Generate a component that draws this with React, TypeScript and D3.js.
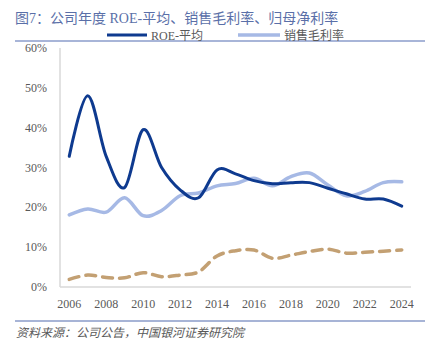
import React from "react";
import * as d3 from "d3";

const years = ["2006","2007","2008","2009","2010","2011","2012","2013","2014","2015","2016","2017","2018","2019","2020","2021","2022","2023","2024"];
const roe = [32.8, 48, 32.8, 25, 39.5, 30, 24.4, 22.4, 29.4, 28.4, 26.7, 25.9, 26.2, 26.2, 24.8, 23.4, 22.1, 22.1, 20.3];
const grossMargin = [18.1, 19.6, 18.8, 22.4, 17.9, 19.2, 22.9, 23.6, 25.4, 26, 27.3, 25.4, 27.7, 28.6, 25.6, 22.9, 24, 26.2, 26.4];
const netMargin = [1.9, 3, 2.4, 2.3, 3.6, 2.6, 3, 3.8, 7.8, 9.1, 9.3, 7.2, 8, 8.9, 9.5, 8.5, 8.7, 9, 9.3];
const yTicks = [0, 10, 20, 30, 40, 50, 60];
const xTickYears = ["2006","2008","2010","2012","2014","2016","2018","2020","2022","2024"];

const W = 436;
const H = 351;
const serif = "'Liberation Serif', 'Noto Sans CJK SC', serif";
const cjk = "'Liberation Serif', 'Noto Sans CJK SC', sans-serif";

export default function App() {
  const x = d3.scaleBand().domain(years).range([60, 411]);
  const cx = (d: string) => (x(d) as number) + x.bandwidth() / 2;
  const y = d3.scaleLinear().domain([0, 60]).range([287, 48]);

  const line = (vals: number[]) =>
    d3
      .line<number>()
      .x((_, i) => cx(years[i]))
      .y((v) => y(v))
      .curve(d3.curveCardinal.tension(0))(vals) as string;

  return (
    <svg width={W} height={H} style={{ position: "absolute", left: 0, top: 0, background: "#fff" }}>
      <text x={15} y={23} fontSize={14} fill="#5a6fa8" fontFamily={cjk}>
        图7：公司年度 ROE-平均、销售毛利率、归母净利率
      </text>
      <line x1={15} x2={425} y1={41} y2={41} stroke="#a8b5d8" strokeWidth={2} />

      {/* legend */}
      <line x1={107} x2={147} y1={35} y2={35} stroke="#0e3a8f" strokeWidth={3} />
      <text x={151} y={39.5} fontSize={12} fill="#595959" fontFamily={cjk}>ROE-平均</text>
      <line x1={238} x2={280} y1={35} y2={35} stroke="#a6b9e5" strokeWidth={3.5} />
      <text x={284} y={39.5} fontSize={12} fill="#595959" fontFamily={cjk}>销售毛利率</text>

      {/* axes */}
      <line x1={60} x2={60} y1={48} y2={287} stroke="#d9d9d9" strokeWidth={1.5} />
      <line x1={60} x2={411} y1={287} y2={287} stroke="#d9d9d9" strokeWidth={1.5} />
      {yTicks.map((t) => (
        <text key={t} x={47} y={y(t) + 4} fontSize={12} fill="#595959" textAnchor="end" fontFamily={serif}>
          {t}%
        </text>
      ))}
      {xTickYears.map((yr) => (
        <text key={yr} x={cx(yr)} y={308} fontSize={12} fill="#595959" textAnchor="middle" fontFamily={serif}>
          {yr}
        </text>
      ))}

      {/* series */}
      <path d={line(netMargin)} fill="none" stroke="#c3a073" strokeWidth={3.5} strokeDasharray="10 7" strokeLinecap="round" />
      <path d={line(grossMargin)} fill="none" stroke="#a6b9e5" strokeWidth={3.5} strokeLinecap="round" />
      <path d={line(roe)} fill="none" stroke="#0e3a8f" strokeWidth={3} strokeLinecap="round" />

      <line x1={15} x2={425} y1={321} y2={321} stroke="#8a9bc9" strokeWidth={1.5} />
      <text x={16} y={337} fontSize={12} fill="#595959" fontStyle="italic" fontFamily={cjk}>
        资料来源：公司公告，中国银河证券研究院
      </text>
    </svg>
  );
}
